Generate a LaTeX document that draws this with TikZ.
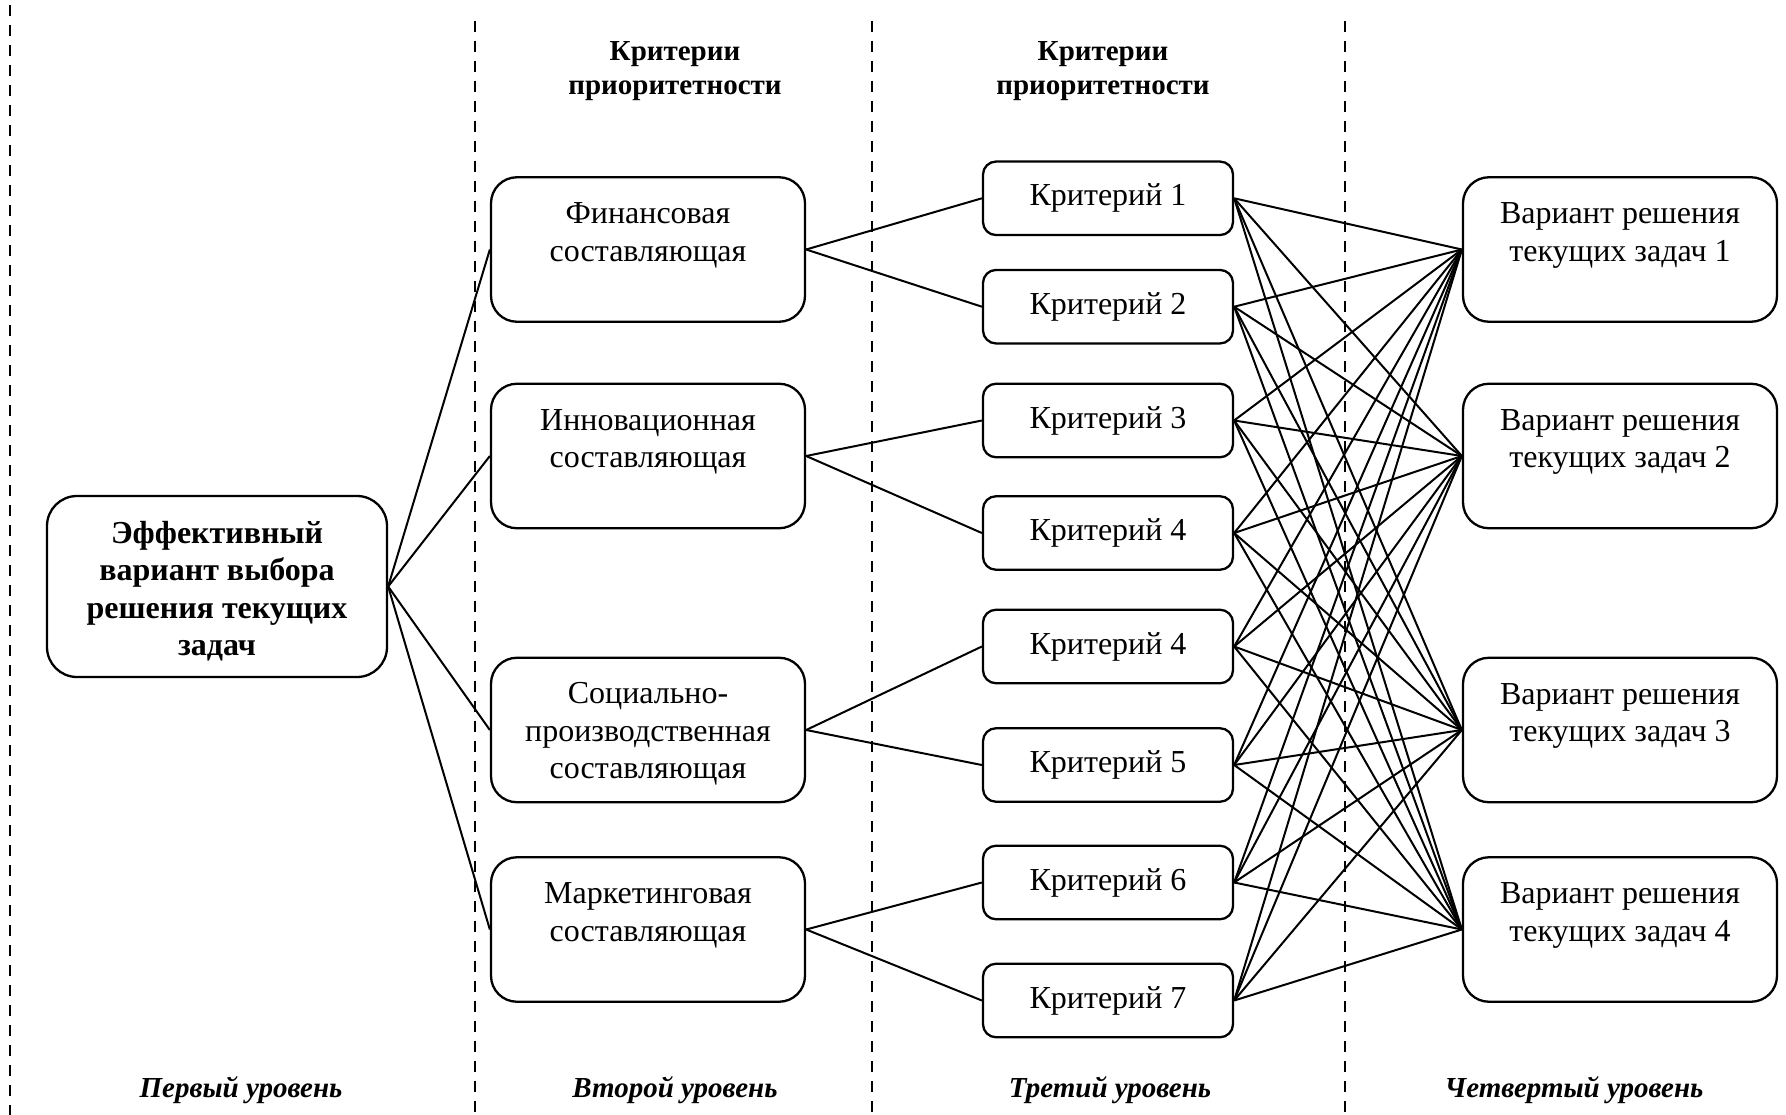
\documentclass[tikz,border=0pt]{standalone}
\usepackage{fontspec}
\setmainfont{Liberation Serif}
\begin{document}
\begin{tikzpicture}[x=1pt,y=-1pt,
  every node/.style={font=\fontsize{32}{37.5}\selectfont, inner sep=0pt, align=center},
  bigbox/.style={draw, line width=2.3pt, rounded corners=26pt, minimum width=314pt, minimum height=144.5pt},
  critbox/.style={draw, line width=2.3pt, rounded corners=13pt, minimum width=250pt, minimum height=73.5pt},
  rootbox/.style={draw, line width=2.3pt, rounded corners=30pt, minimum width=340pt, minimum height=181pt, font=\fontsize{32}{37.5}\selectfont\bfseries},
  head/.style={font=\fontsize{29}{34}\selectfont\bfseries},
  lvl/.style={font=\fontsize{29}{34}\selectfont\bfseries\itshape, anchor=base},
  link/.style={line width=2pt},
  sep/.style={line width=1.4pt, dash pattern=on 11pt off 9pt}
]
\useasboundingbox (0,0) rectangle (1786,1115);
\fill[white] (0,0) rectangle (1786,1115);

% separators
\coordinate (s1t) at (10,5);    \coordinate (s1b) at (10,1115);
\coordinate (s2t) at (475,21);  \coordinate (s2b) at (475,1115);
\coordinate (s3t) at (872,21);  \coordinate (s3b) at (872,1115);
\coordinate (s4t) at (1345,21); \coordinate (s4b) at (1345,1115);
\draw[sep] (s1t) -- (s1b);
\draw[sep] (s2t) -- (s2b);
\draw[sep] (s3t) -- (s3b);
\draw[sep] (s4t) -- (s4b);

% headers
\node[head] (h2) at (675,71.5) {Критерии\\приоритетности};
\node[head] (h3) at (1103,71.5) {Критерии\\приоритетности};

% level labels
\node[lvl] (l1) at (241,1097) {Первый уровень};
\node[lvl] (l2) at (675,1097) {Второй уровень};
\node[lvl] (l3) at (1110,1097) {Третий уровень};
\node[lvl] (l4) at (1574,1097) {Четвертый уровень};

% root
\node[rootbox] (R) at (217,586.5) {\rule{0pt}{32pt}Эффективный\\вариант выбора\\решения текущих\\задач};

% second level
\node[bigbox] (F) at (648,249.5) {Финансовая\\составляющая\\[-3pt]\mbox{}};
\node[bigbox] (I) at (648,456) {Инновационная\\составляющая\\[-3pt]\mbox{}};
\node[bigbox] (S) at (648,730) {\rule{0pt}{29pt}Социально-\\производственная\\составляющая};
\node[bigbox] (M) at (648,929.5) {Маркетинговая\\составляющая\\[-3pt]\mbox{}};

% criteria
\node[critbox] (K1) at (1108,198.3) {Критерий 1};
\node[critbox] (K2) at (1108,306.7) {Критерий 2};
\node[critbox] (K3) at (1108,420.5) {Критерий 3};
\node[critbox] (K4) at (1108,533) {Критерий 4};
\node[critbox] (K4b) at (1108,646.5) {Критерий 4};
\node[critbox] (K5) at (1108,765) {Критерий 5};
\node[critbox] (K6) at (1108,882.5) {Критерий 6};
\node[critbox] (K7) at (1108,1000.5) {Критерий 7};

% variants
\node[bigbox] (V1) at (1620,249.5) {Вариант решения\\текущих задач 1\\[-3pt]\mbox{}};
\node[bigbox] (V2) at (1620,456) {Вариант решения\\текущих задач 2\\[-3pt]\mbox{}};
\node[bigbox] (V3) at (1620,730) {Вариант решения\\текущих задач 3\\[-3pt]\mbox{}};
\node[bigbox] (V4) at (1620,929.5) {Вариант решения\\текущих задач 4\\[-3pt]\mbox{}};

% links root -> second level
\foreach \t in {F,I,S,M} \draw[link] (R.east) -- (\t.west);

% second level -> criteria
\draw[link] (F.east) -- (K1.west);
\draw[link] (F.east) -- (K2.west);
\draw[link] (I.east) -- (K3.west);
\draw[link] (I.east) -- (K4.west);
\draw[link] (S.east) -- (K4b.west);
\draw[link] (S.east) -- (K5.west);
\draw[link] (M.east) -- (K6.west);
\draw[link] (M.east) -- (K7.west);

% criteria -> variants
\foreach \k in {K1,K2,K3,K4,K4b,K5,K6,K7}
  \foreach \v in {V1,V2,V3,V4}
    \draw[link] (\k.east) -- (\v.west);
\end{tikzpicture}
\end{document}
